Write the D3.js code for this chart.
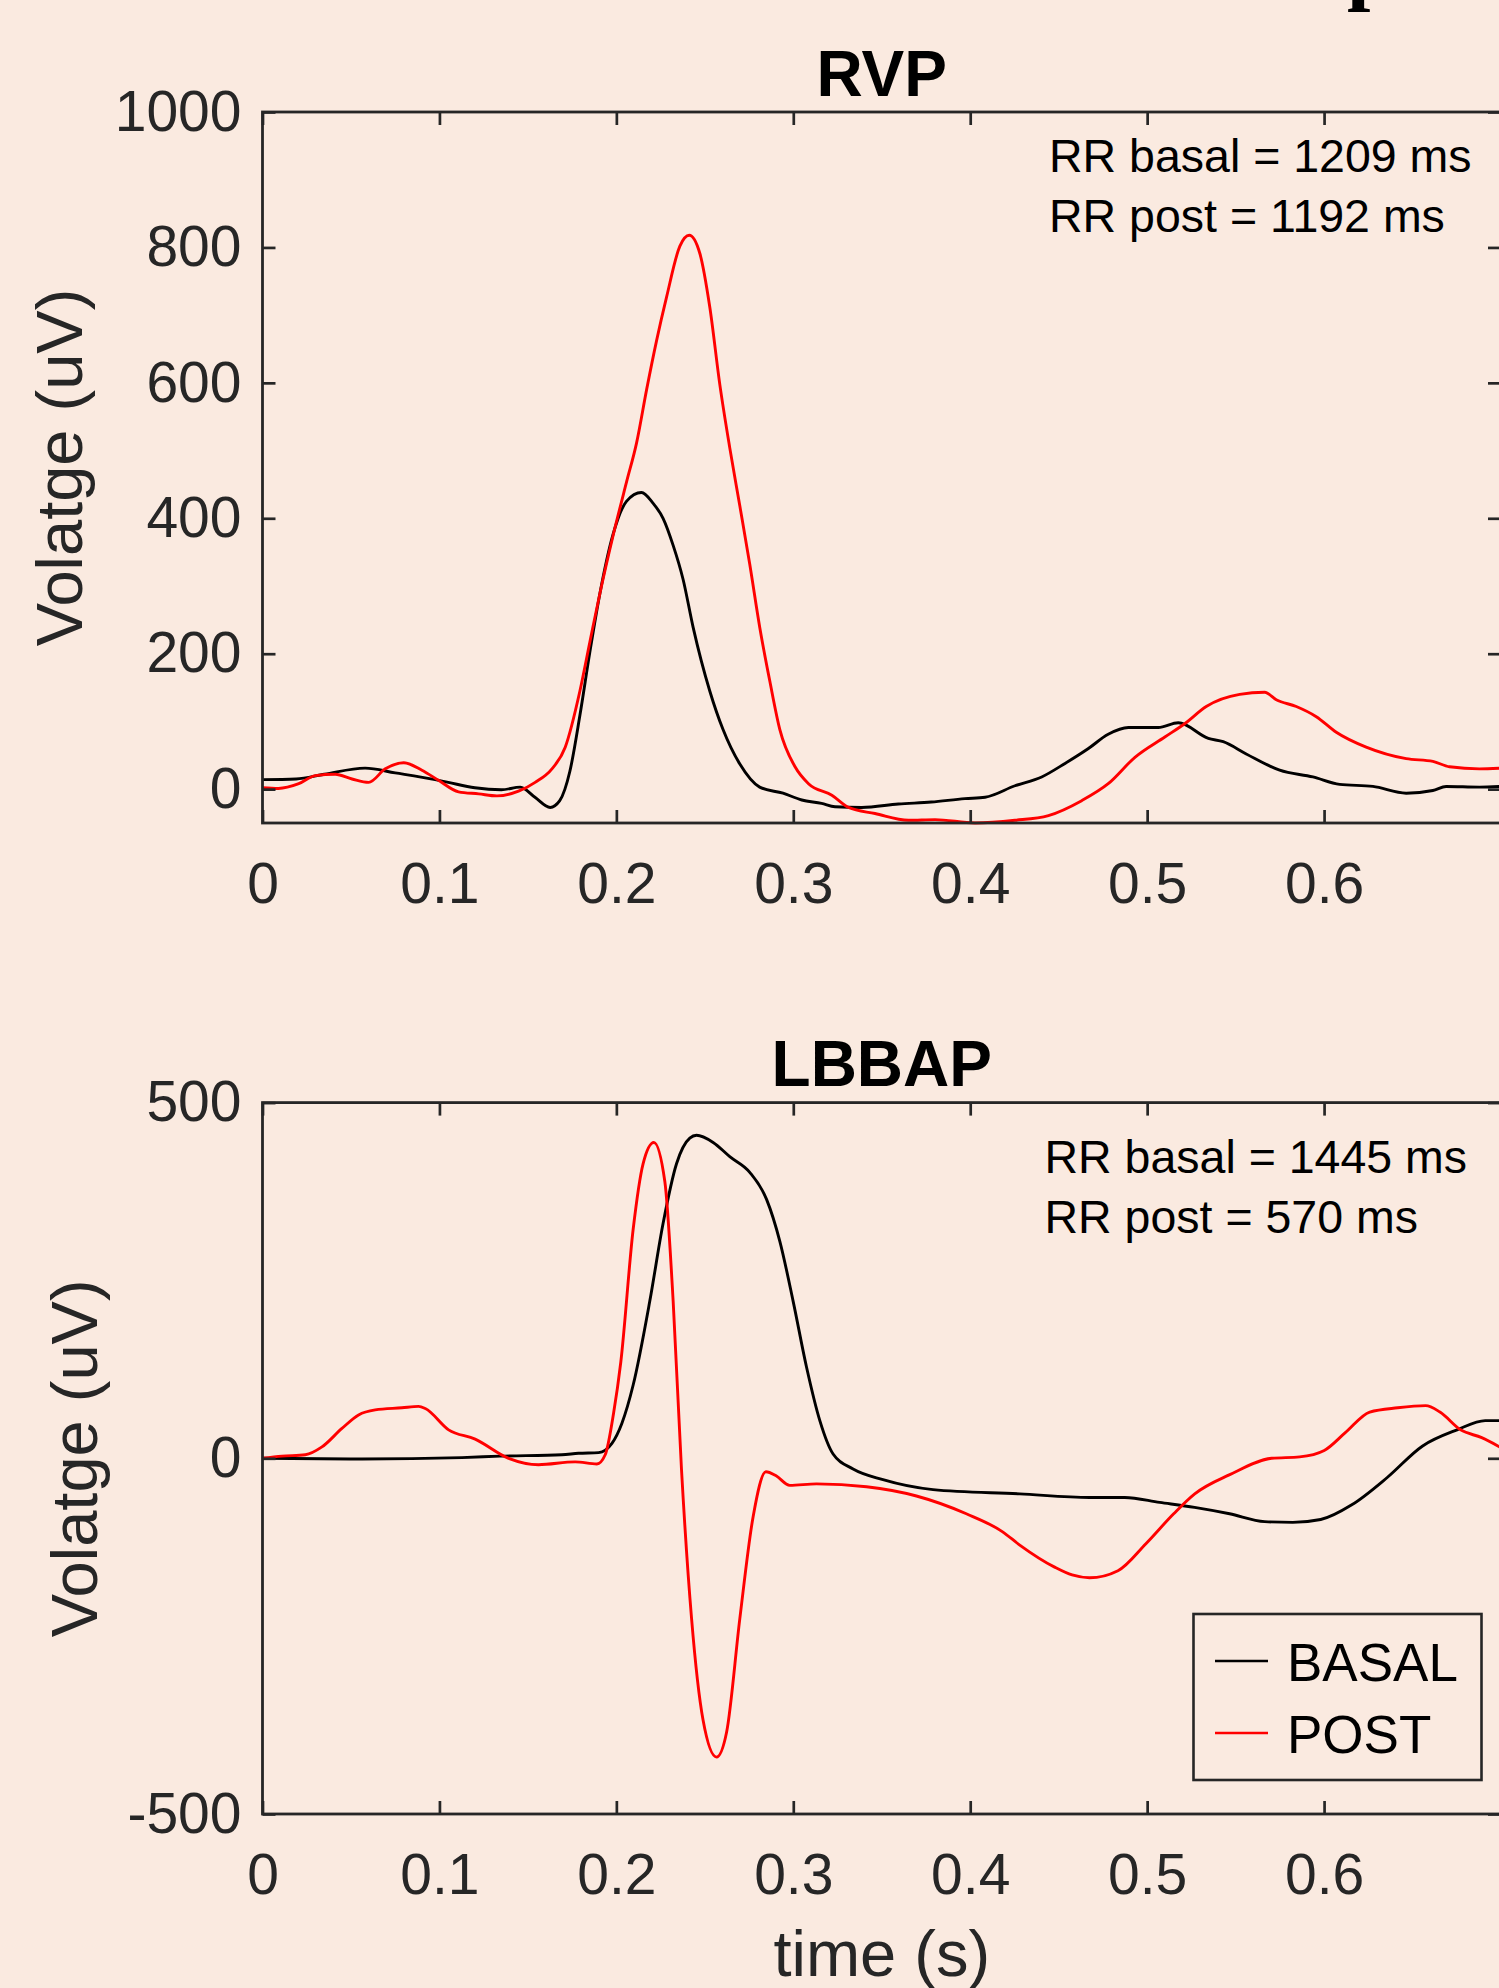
<!DOCTYPE html>
<html>
<head>
<meta charset="utf-8">
<script src="https://cdn.jsdelivr.net/npm/d3@7/dist/d3.min.js"></script>
<style>
  html, body { margin: 0; padding: 0; background: #FAEAE0; }
  svg { display: block; }
</style>
</head>
<body>
<div id="chart"></div>
<script>
// ---- data ----
const xTicks = [0, 0.1, 0.2, 0.3, 0.4, 0.5, 0.6]

const rvpBasalTime = [0, 0.019, 0.035, 0.058, 0.075, 0.0976, 0.105, 0.12, 0.135, 0.1457, 0.154, 0.1626, 0.168, 0.1737, 0.1794, 0.185, 0.1907, 0.198, 0.2057, 0.2142, 0.2208, 0.2264, 0.2321, 0.2377, 0.2434, 0.2528, 0.2603, 0.2698, 0.281, 0.2942, 0.3048, 0.316, 0.3236, 0.3387, 0.3594, 0.378, 0.397, 0.4084, 0.4253, 0.4404, 0.4536, 0.4668, 0.478, 0.4894, 0.5063, 0.5176, 0.5346, 0.543, 0.556, 0.5749, 0.5937, 0.6088, 0.6276, 0.6464, 0.6615, 0.669, 0.6878, 0.7]
const rvpBasal = [14, 15, 22, 31, 24, 14, 10, 2, -1, 3, -12, -27, -17, 26, 109, 202, 289, 375, 425, 438, 422, 400, 360, 310, 239, 145, 88, 37, 3, -6, -16, -21, -26, -27, -22, -19, -14, -12, 5, 18, 38, 60, 81, 91, 91, 98, 75, 70, 52, 28, 18, 7, 4, -6, -2, 4, 3, 4]

const rvpPostTime = [0, 0.009, 0.0205, 0.0298, 0.0411, 0.0506, 0.06, 0.0694, 0.0798, 0.0901, 0.0995, 0.1108, 0.1222, 0.1325, 0.1447, 0.1541, 0.1636, 0.1711, 0.1794, 0.185, 0.1907, 0.1982, 0.2058, 0.2114, 0.2171, 0.2227, 0.2284, 0.2359, 0.2412, 0.2472, 0.2528, 0.2585, 0.2641, 0.2698, 0.2754, 0.2811, 0.2867, 0.2924, 0.301, 0.3086, 0.3218, 0.3312, 0.3462, 0.3651, 0.3801, 0.4027, 0.4253, 0.4442, 0.463, 0.478, 0.4931, 0.51, 0.5214, 0.5334, 0.5523, 0.5664, 0.573, 0.5843, 0.5956, 0.6069, 0.6238, 0.6464, 0.6615, 0.6709, 0.6878, 0.7]
const rvpPost = [2, 1, 8, 20, 22, 15, 10, 30, 39, 28, 13, -4, -7, -10, -3, 10, 30, 62, 145, 217, 289, 375, 454, 511, 590, 662, 727, 802, 818, 791, 712, 597, 504, 418, 332, 238, 160, 88, 33, 8, -9, -27, -36, -46, -45, -50, -46, -39, -17, 8, 47, 77, 97, 122, 140, 143, 132, 122, 107, 84, 62, 45, 41, 33, 30, 31]

const lbbapBasalTime = [0, 0.0562, 0.1127, 0.1342, 0.1692, 0.1786, 0.19, 0.1975, 0.2031, 0.2095, 0.2189, 0.2264, 0.234, 0.2415, 0.2453, 0.2547, 0.2641, 0.2754, 0.2849, 0.2924, 0.2999, 0.3075, 0.315, 0.3225, 0.3338, 0.3507, 0.379, 0.428, 0.4675, 0.4873, 0.5071, 0.5268, 0.5466, 0.5664, 0.5823, 0.5981, 0.6159, 0.6357, 0.6555, 0.6752, 0.6911, 0.7]
const lbbapBasal = [0, -1, 1, 3, 5, 7, 8, 21, 49, 103, 221, 330, 414, 450, 454, 444, 424, 402, 364, 305, 221, 128, 53, 6, -15, -30, -44, -50, -55, -55, -62, -69, -78, -89, -90, -86, -65, -27, 17, 40, 53, 53]

const lbbapPostTime = [0, 0.011, 0.0242, 0.0336, 0.0449, 0.0543, 0.0637, 0.0788, 0.0882, 0.092, 0.1052, 0.1202, 0.1391, 0.156, 0.1767, 0.189, 0.1937, 0.1984, 0.2025, 0.2095, 0.2151, 0.2212, 0.2274, 0.2321, 0.2368, 0.2425, 0.249, 0.2566, 0.2623, 0.2698, 0.2773, 0.2845, 0.2905, 0.298, 0.3131, 0.3414, 0.3696, 0.3978, 0.4181, 0.428, 0.4477, 0.4576, 0.4675, 0.4835, 0.4993, 0.515, 0.5269, 0.5467, 0.5704, 0.5862, 0.6001, 0.612, 0.6258, 0.6416, 0.6574, 0.6655, 0.6772, 0.6891, 0.7]
const lbbapPost = [0, 3, 5, 16, 42, 61, 68, 71, 73, 70, 40, 27, 0, -9, -5, -8, 5, 63, 135, 322, 414, 444, 389, 221, -15, -225, -368, -420, -385, -225, -82, -19, -25, -38, -36, -40, -53, -78, -103, -122, -153, -164, -168, -158, -120, -78, -50, -23, 0, 2, 11, 36, 65, 71, 74, 65, 40, 29, 15]

const rvpYTicks = [0, 200, 400, 600, 800, 1000]
const lbbapYTicks = [-500, 0, 500]
const seriesNames = ['BASAL', 'POST']
const seriesColors = ['#000000', '#FF0000']

// ---- layout ----
const width = 1499
const height = 1988
const axisColor = '#262626'
const fontFamily = '"Liberation Sans", Arial, Helvetica, sans-serif'

const svg = d3.select('#chart')
    .append('svg')
    .attr('width', width)
    .attr('height', height)

svg.append('rect')
    .attr('width', width)
    .attr('height', height)
    .attr('fill', '#FAEAE0')

// cut-off letter from the figure that sat above this one
svg.append('text')
    .attr('x', 1347)
    .attr('y', -6)
    .attr('font-family', '"Liberation Serif", "Times New Roman", serif')
    .attr('font-weight', 'bold')
    .attr('font-size', 84)
    .attr('fill', '#000')
    .text('p')

const x = d3.scaleLinear().domain([0, 0.7]).range([262.5, 1501])

const panels = [
    {
        title: 'RVP', titleY: 96,
        yDomain: [-50, 1000], yRange: [823, 112], yTicks: rvpYTicks,
        labelX: 82,
        notes: ['RR basal = 1209 ms', 'RR post = 1192 ms'], noteX: 1049, noteY: 172,
        series: [[rvpBasalTime, rvpBasal], [rvpPostTime, rvpPost]],
        legend: false
    },
    {
        title: 'LBBAP', titleY: 1086,
        yDomain: [-500, 500], yRange: [1814, 1102.6], yTicks: lbbapYTicks,
        labelX: 97,
        notes: ['RR basal = 1445 ms', 'RR post = 570 ms'], noteX: 1044.5, noteY: 1172.6,
        series: [[lbbapBasalTime, lbbapBasal], [lbbapPostTime, lbbapPost]],
        legend: true
    }
]

const fmtX = d => d === 0 ? '0' : d3.format('.1f')(d)

panels.forEach(function (p, pi) {
    const y = d3.scaleLinear().domain(p.yDomain).range(p.yRange)
    const top = p.yRange[1]
    const bottom = p.yRange[0]
    const left = x.range()[0]
    const right = x.range()[1]

    const g = svg.append('g')

    // traces
    p.series.forEach(function (s, si) {
        const pts = s[0].map((t, i) => [t, s[1][i]])
        g.append('path')
            .datum(pts)
            .attr('fill', 'none')
            .attr('stroke', seriesColors[si])
            .attr('stroke-width', 2.9)
            .attr('stroke-linejoin', 'round')
            .attr('d', d3.line()
                .x(d => x(d[0]))
                .y(d => y(d[1]))
                .curve(d3.curveMonotoneX))
    })

    // axes, ticks pointing inward on all four sides
    const gBottom = g.append('g')
        .attr('transform', `translate(0,${bottom})`)
        .call(d3.axisBottom(x).tickValues(xTicks).tickSize(-13).tickSizeOuter(0).tickPadding(40).tickFormat(fmtX))
    const gTop = g.append('g')
        .attr('transform', `translate(0,${top})`)
        .call(d3.axisTop(x).tickValues(xTicks).tickSize(-13).tickSizeOuter(0).tickFormat(''))
    const gLeft = g.append('g')
        .attr('transform', `translate(${left},0)`)
        .call(d3.axisLeft(y).tickValues(p.yTicks).tickSize(-13).tickSizeOuter(0).tickPadding(21).tickFormat(d => String(d)))
    const gRight = g.append('g')
        .attr('transform', `translate(${right},0)`)
        .call(d3.axisRight(y).tickValues(p.yTicks).tickSize(-13).tickSizeOuter(0).tickFormat(''))

    ;[gBottom, gTop, gLeft, gRight].forEach(function (a) {
        a.select('.domain').remove()
        a.selectAll('.tick line').attr('stroke', axisColor).attr('stroke-width', 2.7)
        a.selectAll('.tick text')
            .attr('fill', axisColor)
            .attr('font-family', fontFamily)
            .attr('font-size', 57)
    })

    g.append('rect')
        .attr('x', left)
        .attr('y', top)
        .attr('width', right - left)
        .attr('height', bottom - top)
        .attr('fill', 'none')
        .attr('stroke', axisColor)
        .attr('stroke-width', 2.8)

    // title
    g.append('text')
        .attr('x', (left + right) / 2)
        .attr('y', p.titleY)
        .attr('text-anchor', 'middle')
        .attr('font-family', fontFamily)
        .attr('font-weight', 'bold')
        .attr('font-size', 64)
        .attr('fill', '#000')
        .text(p.title)

    // y label
    g.append('text')
        .attr('transform', `translate(${p.labelX},${(top + bottom) / 2}) rotate(-90)`)
        .attr('text-anchor', 'middle')
        .attr('font-family', fontFamily)
        .attr('font-size', 65)
        .attr('fill', axisColor)
        .text('Volatge (uV)')

    // RR notes
    p.notes.forEach(function (n, ni) {
        g.append('text')
            .attr('x', p.noteX)
            .attr('y', p.noteY + ni * 60)
            .attr('font-family', fontFamily)
            .attr('font-size', 46.5)
            .attr('fill', '#000')
            .text(n)
    })

    if (p.legend) {
        const lg = g.append('g')
        lg.append('rect')
            .attr('x', 1193.5)
            .attr('y', 1614)
            .attr('width', 288)
            .attr('height', 166)
            .attr('fill', '#FAEAE0')
            .attr('stroke', axisColor)
            .attr('stroke-width', 2.6)
        seriesNames.forEach(function (name, i) {
            const cy = 1661 + i * 72
            lg.append('line')
                .attr('x1', 1215)
                .attr('x2', 1268)
                .attr('y1', cy)
                .attr('y2', cy)
                .attr('stroke', seriesColors[i])
                .attr('stroke-width', 2.6)
            lg.append('text')
                .attr('x', 1287)
                .attr('y', cy + 20)
                .attr('font-family', fontFamily)
                .attr('font-size', 53)
                .attr('fill', '#000')
                .text(name)
        })
    }

    if (pi === 1) {
        g.append('text')
            .attr('x', (left + right) / 2)
            .attr('y', 1976)
            .attr('text-anchor', 'middle')
            .attr('font-family', fontFamily)
            .attr('font-size', 65)
            .attr('fill', axisColor)
            .text('time (s)')
    }
})
</script>
</body>
</html>
